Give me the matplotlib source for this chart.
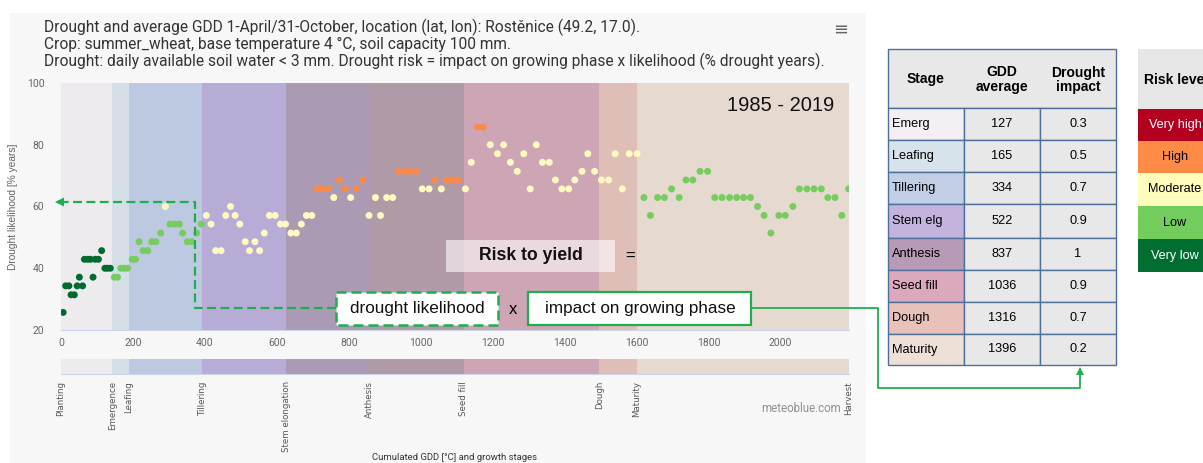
import matplotlib
matplotlib.use("Agg")
import matplotlib.pyplot as plt
from matplotlib.patches import Rectangle, Polygon

# ---------------- data ----------------
gdd = [6, 13, 22, 28, 37, 45, 51, 60, 65, 74, 82, 89, 95, 104, 113, 122, 129, 137,
       148, 157, 166, 175, 185, 198, 207, 217, 228, 241, 252, 264, 277,
       290,
       303, 316, 329, 338, 351, 364, 377, 390,
       404, 417, 430, 445, 458, 471, 484, 497, 512, 524, 539, 552, 565, 579, 595, 610,
       624, 639, 654, 668, 682, 697,
       712, 726, 743, 758, 773, 790, 805, 822, 839, 856, 874, 888, 905, 922, 937, 954,
       970, 987, 1004, 1023, 1039, 1057, 1073, 1088, 1105, 1124, 1140, 1158, 1173,
       1193, 1213, 1230, 1249, 1268, 1286, 1304, 1321, 1338, 1357, 1374, 1392, 1411,
       1428, 1448, 1464, 1483, 1502, 1522, 1540, 1560, 1579, 1601,
       1620, 1638, 1658, 1677, 1697, 1718, 1737, 1756, 1776, 1797, 1817, 1837, 1858,
       1878, 1897, 1916, 1936, 1954, 1973, 1995, 2013, 2034, 2052, 2073, 2093, 2113,
       2131, 2151, 2170, 2189]
likelihood = [25.7, 34.3, 34.3, 31.4, 31.4, 34.3, 37.1, 34.3, 42.9, 42.9, 42.9, 37.1,
              42.9, 42.9, 45.7, 40.0, 40.0, 40.0,
              37.1, 37.1, 40.0, 40.0, 40.0, 42.9, 42.9, 48.6, 45.7, 45.7, 48.6, 48.6, 51.4,
              60.0,
              54.3, 54.3, 54.3, 51.4, 48.6, 48.6, 51.4, 54.3,
              57.1, 54.3, 45.7, 45.7, 57.1, 60.0, 57.1, 54.3, 48.6, 45.7, 48.6, 45.7, 51.4,
              57.1, 57.1, 54.3, 54.3, 51.4, 51.4, 54.3, 57.1, 57.1,
              65.7, 65.7, 65.7, 62.9, 68.6, 65.7, 62.9, 65.7, 68.6, 57.1, 62.9, 57.1, 62.9,
              62.9, 71.4, 71.4, 71.4, 71.4, 65.7, 65.7, 68.6, 65.7, 68.6, 68.6, 68.6, 65.7,
              74.3, 85.7, 85.7,
              80.0, 77.1, 80.0, 74.3, 71.4, 77.1, 65.7, 80.0, 74.3, 74.3, 68.6, 65.7, 65.7,
              68.6, 71.4, 77.1, 71.4, 68.6, 68.6, 77.1, 65.7, 77.1, 77.1,
              62.9, 57.1, 62.9, 62.9, 65.7, 62.9, 68.6, 68.6, 71.4, 71.4, 62.9, 62.9, 62.9,
              62.9, 62.9, 62.9, 60.0, 57.1, 51.4, 57.1, 57.1, 60.0, 65.7, 65.7, 65.7, 65.7,
              62.9, 62.9, 57.1, 65.7]
# risk class per point: V very low, L low, M moderate, H high
risk = ("VVVVVVVVVVVVVVVVVV" "LLLLLLLLLLLLL" "M" "LLLLLLLL"
        "MMMMMMMMMMMMMMMMMMMMMM"
        "HHHMHHMHHMMMMMHHHHMMHMHHHMMHH"
        "MMMMMMMMMMMMMMMMMMMMMMM"
        "LLLLLLLLLLLLLLLLLLLLLLLLLLLLLL")
assert len(gdd) == len(likelihood) == len(risk)

stage_names = ["Planting", "Emergence", "Leafing", "Tillering", "Stem elongation",
               "Anthesis", "Seed fill", "Dough", "Maturity", "Harvest"]
stage_gdd = [0, 143, 189, 393, 626, 856, 1120, 1496, 1601, 2190]
band_colors = ["#eeebef", "#d5dfe6", "#bdc9e1", "#b7acd6", "#ab9ab3", "#b09aa8",
               "#cda5b4", "#dfbeb7", "#e6d9d0"]

table_stage = ["Emerg", "Leafing", "Tillering", "Stem elg", "Anthesis", "Seed fill",
               "Dough", "Maturity"]
table_gdd = ["127", "165", "334", "522", "837", "1036", "1316", "1396"]
table_impact = ["0.3", "0.5", "0.7", "0.9", "1", "0.9", "0.7", "0.2"]
table_colors = ["#f3eff5", "#d6e3ea", "#c1cee6", "#c3b3dd", "#b89ab6", "#dba9bb",
                "#e8c1ba", "#efe0d7"]

risk_levels = ["Very high", "High", "Moderate", "Low", "Very low"]
risk_colors = ["#b3001f", "#fd8a45", "#fefdbb", "#72cd5c", "#006d31"]
risk_text = ["white", "black", "black", "black", "white"]
dot_colors = {"V": "#006b2f", "L": "#76cc5e", "M": "#fefabf", "H": "#fb8a4a"}

x_ticks = [0, 200, 400, 600, 800, 1000, 1200, 1400, 1600, 1800, 2000]
y_ticks = [20, 40, 60, 80, 100]

# ---------------- figure ----------------
W, H = 1203, 463
fig = plt.figure(figsize=(W / 100, H / 100), dpi=100)
fig.patch.set_facecolor("white")
SANS = ["Liberation Sans", "DejaVu Sans"]
COND = ["Roboto", "DejaVu Sans"]


def ax_px(x0, y0, x1, y1, z):
    return fig.add_axes([x0 / W, 1 - y1 / H, (x1 - x0) / W, (y1 - y0) / H], zorder=z)


bg = ax_px(0, 0, W, H, 0)
bg.set_xlim(0, W); bg.set_ylim(H, 0); bg.axis("off")
bg.add_patch(Rectangle((10, 13), 856, 450, color="#f7f7f7", lw=0))

# main chart
ax = ax_px(61, 83, 849, 330, 1)
ax.set_xlim(0, stage_gdd[-1]); ax.set_ylim(20, 100)
for i, c in enumerate(band_colors):
    ax.axvspan(stage_gdd[i], stage_gdd[i + 1], color=c, lw=0, zorder=0)
ax.scatter(gdd, likelihood, c=[dot_colors[r] for r in risk], s=25, lw=0, zorder=3)
for s in ["top", "right", "left"]:
    ax.spines[s].set_visible(False)
ax.spines["bottom"].set_color("#ccd6eb")
ax.set_xticks(x_ticks); ax.set_yticks(y_ticks)
ax.tick_params(axis="both", length=0, labelsize=7.5, labelcolor="#666666")
ax.tick_params(axis="x", pad=6)
ax.tick_params(axis="y", pad=12)
for lab in ax.get_xticklabels() + ax.get_yticklabels():
    lab.set_family(COND)
ax.set_ylabel("Drought likelihood [% years]", fontsize=7.3, color="#666666",
              family=SANS, labelpad=6)
ax.text(0.981, 0.91, "1985 - 2019", transform=ax.transAxes, ha="right", va="center",
        fontsize=14.5, family=SANS, color="#111111")

# stage bar
bar = ax_px(61, 359, 849, 374, 1)
bar.set_xlim(0, stage_gdd[-1]); bar.set_ylim(0, 1)
for i, c in enumerate(band_colors):
    bar.axvspan(stage_gdd[i], stage_gdd[i + 1], color=c, lw=0)
bar.set_xticks([]); bar.set_yticks([])
for s in ["top", "right", "left"]:
    bar.spines[s].set_visible(False)
bar.spines["bottom"].set_color("#ccd6eb")
for name, g in zip(stage_names, stage_gdd):
    bar.annotate(name, xy=(g, 0), xycoords=("data", "axes fraction"),
                 xytext=(0, -5), textcoords="offset points", rotation=90,
                 ha="center", va="top", fontsize=6.2, color="#555555",
                 family="DejaVu Sans")

# overlay in pixel coordinates
ov = ax_px(0, 0, W, H, 5)
ov.set_xlim(0, W); ov.set_ylim(H, 0); ov.axis("off")
ov.patch.set_visible(False)

title = ["Drought and average GDD 1-April/31-October, location (lat, lon): Rostěnice (49.2, 17.0).",
         "Crop: summer_wheat, base temperature 4 °C, soil capacity 100 mm.",
         "Drought: daily available soil water < 3 mm. Drought risk = impact on growing phase x likelihood (% drought years)."]
for i, t in enumerate(title):
    ov.text(44, 27 + 17 * i, t, ha="left", va="center", fontsize=11.2, color="#333333",
            family=COND)
ov.text(841, 30, "≡", ha="center", va="center", fontsize=13, color="#666666",
        family="DejaVu Sans")
ov.text(841, 409, "meteoblue.com", ha="right", va="center", fontsize=8.3,
        color="#909090", family=COND)
ov.text(455, 457, "Cumulated GDD [°C] and growth stages", ha="center", va="center",
        fontsize=6.8, color="#333333", family=COND)

# formula boxes
GREEN = "#1fae4f"
ov.add_patch(Rectangle((446, 240), 169, 32, facecolor="white", alpha=0.6, lw=0))
ov.text(531, 256, "Risk to yield", ha="center", va="center", fontsize=12.7,
        fontweight="bold", family=SANS, color="#111111")
ov.text(630, 256, "=", ha="center", va="center", fontsize=12, family=SANS)
ov.add_patch(Rectangle((336, 292), 162, 33, facecolor="white", edgecolor=GREEN,
                       lw=1.8, ls=(0, (4, 2))))
ov.text(417, 309, "drought likelihood", ha="center", va="center", fontsize=12.3,
        family=SANS, color="#111111")
ov.text(513, 310, "x", ha="center", va="center", fontsize=12, family=SANS)
ov.add_patch(Rectangle((528, 292), 223, 33, facecolor="white", edgecolor=GREEN, lw=1.6))
ov.text(640, 309, "impact on growing phase", ha="center", va="center", fontsize=12.3,
        family=SANS, color="#111111")

# dashed connector to y axis
ov.plot([336, 195, 195, 63], [308, 308, 202, 202], color=GREEN, lw=1.6,
        ls=(0, (4, 2)), solid_capstyle="butt")
ov.add_patch(Polygon([(55, 202), (64, 197.5), (64, 206.5)], closed=True,
                     color=GREEN, lw=0))
# solid connector to table
ov.plot([751, 878, 878, 1080, 1080], [308, 308, 388, 388, 374], color=GREEN, lw=1.3)
ov.add_patch(Polygon([(1080, 367), (1076, 375), (1084, 375)], closed=True,
                     color=GREEN, lw=0))

# stage table
col_x = [888, 964, 1040, 1116]
row_y = [49, 108, 140, 172, 204, 238, 270, 302, 334, 365]
EDGE = "#4d6f9c"
ov.add_patch(Rectangle((col_x[0], row_y[0]), col_x[-1] - col_x[0], row_y[1] - row_y[0],
                       facecolor="#e8e8e8", edgecolor=EDGE, lw=1))
hdr = ["Stage", "GDD\naverage", "Drought\nimpact"]
for j, h in enumerate(hdr):
    ov.text((col_x[j] + col_x[j + 1]) / 2, (row_y[0] + row_y[1]) / 2 + 1, h,
            ha="center", va="center", fontsize=10, fontweight="bold", family=SANS,
            linespacing=1.0)
for i in range(len(table_stage)):
    y0, y1 = row_y[i + 1], row_y[i + 2]
    for j in range(3):
        fc = table_colors[i] if j == 0 else "#e8e8e8"
        ov.add_patch(Rectangle((col_x[j], y0), col_x[j + 1] - col_x[j], y1 - y0,
                               facecolor=fc, edgecolor=EDGE, lw=1))
    yc = (y0 + y1) / 2
    ov.text(col_x[0] + 4, yc, table_stage[i], ha="left", va="center", fontsize=9.2,
            family=SANS)
    ov.text((col_x[1] + col_x[2]) / 2, yc, table_gdd[i], ha="center", va="center",
            fontsize=9.2, family=SANS)
    ov.text((col_x[2] + col_x[3]) / 2, yc, table_impact[i], ha="center", va="center",
            fontsize=9.2, family=SANS)

# risk level table (cut off at the right edge as in the reference)
rx0, rx1 = 1138, 1215
rl_y = [49, 109, 141, 173, 206, 239, 272]
ov.add_patch(Rectangle((rx0, rl_y[0]), rx1 - rx0, rl_y[1] - rl_y[0],
                       facecolor="#e6e6e6", lw=0))
ov.text(1144, (rl_y[0] + rl_y[1]) / 2 + 1, "Risk level", ha="left", va="center",
        fontsize=10, fontweight="bold", family=SANS)
for i, (lv, c, tc) in enumerate(zip(risk_levels, risk_colors, risk_text)):
    ov.add_patch(Rectangle((rx0, rl_y[i + 1]), rx1 - rx0, rl_y[i + 2] - rl_y[i + 1],
                           facecolor=c, lw=0))
    ov.text(1175, (rl_y[i + 1] + rl_y[i + 2]) / 2, lv, ha="center", va="center",
            fontsize=9.1, family=SANS, color=tc)

fig.savefig("out.png", dpi=100)
